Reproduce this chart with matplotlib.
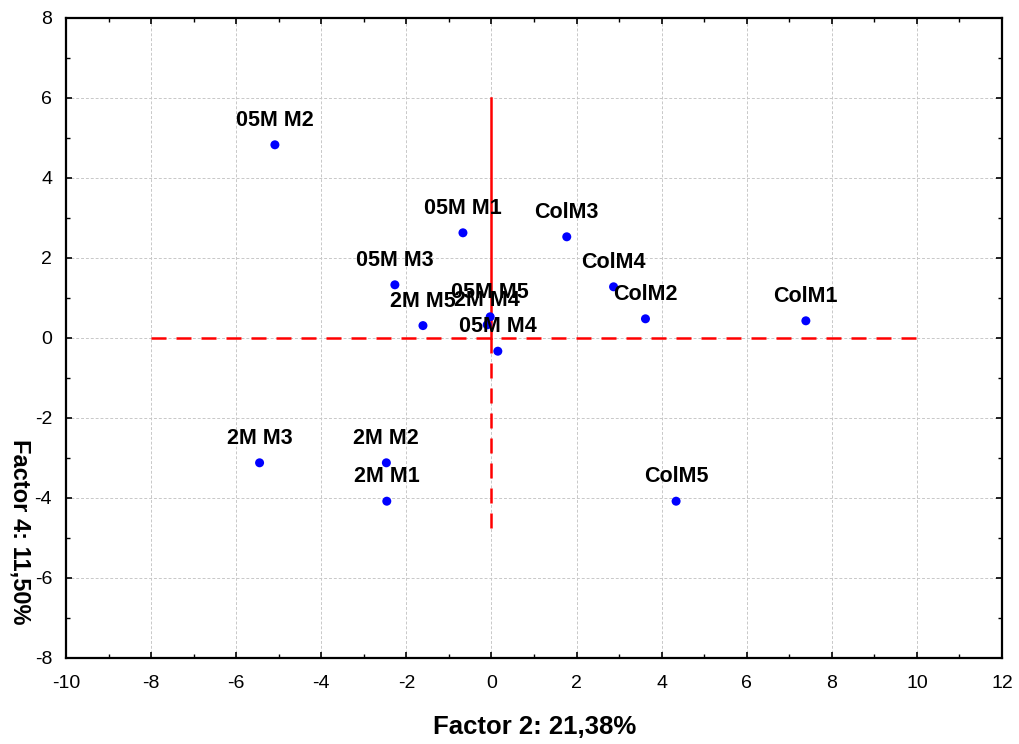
import numpy as np
import matplotlib
matplotlib.use("Agg")
matplotlib.rcParams["axes.unicode_minus"] = False
import matplotlib.pyplot as plt
from matplotlib.ticker import MultipleLocator

plt.rcParams["font.family"] = ["Liberation Sans", "DejaVu Sans"]

labels = ["05M M2", "05M M1", "ColM3", "05M M3", "ColM4", "ColM2", "ColM1",
          "2M M5", "05M M5", "2M M4", "05M M4", "2M M3", "2M M2", "2M M1", "ColM5"]
factor2 = [-5.09, -0.67, 1.77, -2.27, 2.87, 3.62, 7.39,
           -1.61, -0.03, -0.10, 0.15, -5.45, -2.47, -2.46, 4.34]
factor4 = [4.83, 2.63, 2.53, 1.33, 1.28, 0.48, 0.43,
           0.31, 0.53, 0.33, -0.33, -3.12, -3.12, -4.08, -4.08]

fig = plt.figure(figsize=(10.19, 7.44), dpi=100)
ax = fig.add_axes([66 / 1019, 1 - 658 / 744, 936 / 1019, 640 / 744])

# linie odniesienia
ax.plot([-8, 10], [0, 0], color="red", ls=(0, (6, 4)), lw=1.8, zorder=2)
ax.plot([0, 0], [0, 6], color="red", ls="-", lw=1.8, zorder=2)
ax.plot([0, 0], [0, -5], color="red", ls=(0, (6, 4)), lw=1.8, zorder=2)

ax.scatter(factor2, factor4, s=42, color="blue", zorder=3, edgecolors="none")
for lab, x, y in zip(labels, factor2, factor4):
    ax.annotate(lab, (x, y), xytext=(0, 17.5), textcoords="offset points",
                ha="center", va="center", fontsize=15.5, fontweight="bold", zorder=4)

ax.set_xlim(-10, 12)
ax.set_ylim(-8, 8)
ax.xaxis.set_major_locator(MultipleLocator(2))
ax.yaxis.set_major_locator(MultipleLocator(2))
ax.xaxis.set_minor_locator(MultipleLocator(1))
ax.yaxis.set_minor_locator(MultipleLocator(1))
ax.grid(True, which="major", color="#c8c8c8", ls=(0, (3, 2)), lw=0.7, zorder=0)
ax.tick_params(which="both", direction="in", top=True, right=True, labelsize=14)
ax.tick_params(which="major", length=4, width=1.2)
ax.tick_params(which="minor", length=3, width=1.0)
ax.tick_params(axis="x", which="major", pad=12)
ax.tick_params(axis="y", which="major", pad=10)
for sp in ax.spines.values():
    sp.set_linewidth(1.6)

fig.text(535 / 1019, 1 - 727 / 744, "Factor 2: 21,38%", ha="center", va="center",
         fontsize=18.5, fontweight="bold")
fig.text(20 / 1019, 1 - 532 / 744, "Factor 4: 11,50%", ha="center", va="center",
         rotation=270, fontsize=17, fontweight="bold")

fig.savefig("out.png", dpi=100)
